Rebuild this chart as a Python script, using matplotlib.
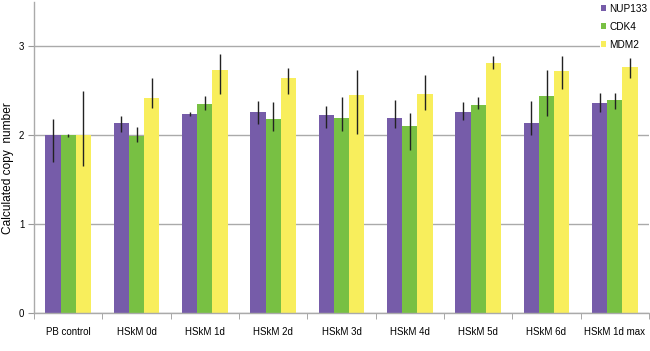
import numpy as np
import matplotlib
matplotlib.use("Agg")
import matplotlib.pyplot as plt

plt.rcParams['font.family'] = ['Liberation Sans', 'DejaVu Sans']

categories = ["PB control", "HSkM 0d", "HSkM 1d", "HSkM 2d", "HSkM 3d",
              "HSkM 4d", "HSkM 5d", "HSkM 6d", "HSkM 1d max"]
series = ["NUP133", "CDK4", "MDM2"]
colors = ["#765CA9", "#78C043", "#F8EE5C"]

# bar heights
nup133 = [2.00, 2.14, 2.24, 2.26, 2.23, 2.19, 2.265, 2.14, 2.36]
cdk4 = [2.00, 1.99, 2.355, 2.18, 2.19, 2.11, 2.34, 2.44, 2.40]
mdm2 = [2.00, 2.415, 2.74, 2.65, 2.45, 2.47, 2.81, 2.72, 2.77]

# error bar ends (low, high)
nup133_lo = [1.70, 2.04, 2.22, 2.13, 2.08, 2.08, 2.17, 2.00, 2.26]
nup133_hi = [2.18, 2.22, 2.26, 2.39, 2.33, 2.40, 2.37, 2.39, 2.475]
cdk4_lo = [1.98, 1.93, 2.28, 2.05, 2.05, 1.84, 2.30, 2.22, 2.295]
cdk4_hi = [2.02, 2.09, 2.44, 2.37, 2.43, 2.25, 2.43, 2.73, 2.475]
mdm2_lo = [1.65, 2.31, 2.47, 2.46, 2.02, 2.28, 2.75, 2.52, 2.65]
mdm2_hi = [2.50, 2.64, 2.92, 2.76, 2.74, 2.68, 2.89, 2.89, 2.865]

values = [nup133, cdk4, mdm2]
lows = [nup133_lo, cdk4_lo, mdm2_lo]
highs = [nup133_hi, cdk4_hi, mdm2_hi]

fig = plt.figure(figsize=(6.5, 3.51), dpi=100)
ax = fig.add_axes([34 / 650, (351 - 313) / 351, 615 / 650, 311 / 351])

x = np.arange(len(categories))
w = 0.224
for i in range(3):
    v = np.array(values[i])
    lo = v - np.array(lows[i])
    hi = np.array(highs[i]) - v
    ax.bar(x + (i - 1) * w, v, w, color=colors[i], label=series[i], zorder=2)
    ax.errorbar(x + (i - 1) * w, v, yerr=[lo, hi], fmt='none',
                ecolor='#222222', elinewidth=1, capsize=0, zorder=3)

ax.set_xlim(-0.5, len(categories) - 0.5)
ax.set_ylim(0, 3.5)
ax.set_yticks([0, 1, 2, 3])
ax.yaxis.grid(True, color='#aaaaaa', linewidth=1, zorder=0)
ax.set_axisbelow(True)
ax.set_xticks(x)
ax.set_xticklabels(categories, fontsize=7)
ax.set_xticks(np.arange(len(categories) + 1) - 0.5, minor=True)
ax.tick_params(axis='x', which='major', length=0, pad=10)
ax.tick_params(axis='x', which='minor', length=4, color='#999999', direction='out')
ax.tick_params(axis='y', length=4, color='#999999', labelsize=7, pad=3)

for s in ['top', 'right']:
    ax.spines[s].set_visible(False)
for s in ['left', 'bottom']:
    ax.spines[s].set_color('#aaaaaa')
    ax.spines[s].set_linewidth(1)

fig.text(8 / 650, 1 - 168 / 351, "Calculated copy  number", fontsize=8.6,
         rotation=90, ha='center', va='center')

leg = ax.legend(loc='upper right', bbox_to_anchor=(1.0, 1.0), frameon=True,
                fontsize=7.2, handlelength=0.5, handleheight=0.5,
                handletextpad=0.3, labelspacing=0.8, borderaxespad=0,
                borderpad=0.15, framealpha=1)
leg.get_frame().set_edgecolor('white')
leg.get_frame().set_linewidth(0)

fig.savefig("out.png", dpi=100)
